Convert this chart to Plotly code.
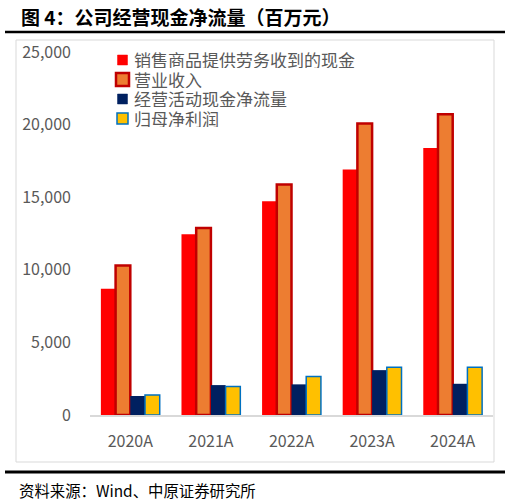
import plotly.graph_objects as go

# 数据（百万元）
years = ['2020A', '2021A', '2022A', '2023A', '2024A']
xiaoshou_xianjin = [8690, 12450, 14720, 16900, 18380]   # 销售商品提供劳务收到的现金
yingye_shouru = [10300, 12880, 15870, 20080, 20720]     # 营业收入
jingying_xianjinliu = [1310, 2060, 2110, 3090, 2150]    # 经营活动现金净流量
guimu_jinglirun = [1380, 1970, 2650, 3280, 3280]        # 归母净利润

series_names = ['销售商品提供劳务收到的现金', '营业收入', '经营活动现金净流量', '归母净利润']
fill_colors = ['#FF0000', '#ED7D31', '#002060', '#FFC000']
edge_colors = [None, '#C00000', None, '#0070C0']
edge_widths = [0, 2.5, 0, 1.5]

W, H = 511, 503
L, R, T, B = 90, 18, 52, 88
PW, PH = W - L - R, H - T - B


def px(x):
    return (x - L) / PW


def py(y):
    return (H - B - y) / PH


font_cn = 'Noto Sans CJK SC'
grey = '#595959'

fig = go.Figure()
for name, vals, fc, ec, ew in zip(series_names,
                                  [xiaoshou_xianjin, yingye_shouru, jingying_xianjinliu, guimu_jinglirun],
                                  fill_colors, edge_colors, edge_widths):
    fig.add_trace(go.Bar(x=years, y=vals, name=name,
                         marker=dict(color=fc, line=dict(color=ec, width=ew))))

shapes = [
    # 图框
    dict(type='rect', xref='paper', yref='paper', x0=px(16), x1=px(494), y0=py(40), y1=py(462),
         line=dict(color='#D9D9D9', width=1), layer='below'),
    # 标题下粗线
    dict(type='line', xref='paper', yref='paper', x0=px(5), x1=px(505), y0=py(32), y1=py(32),
         line=dict(color='black', width=2.5)),
    # 底部粗线
    dict(type='line', xref='paper', yref='paper', x0=px(5), x1=px(505), y0=py(472), y1=py(472),
         line=dict(color='black', width=3)),
]

annotations = [
    dict(text='<b>图 4：公司经营现金净流量（百万元）</b>', xref='paper', yref='paper',
         x=px(19), y=py(16), xanchor='left', yanchor='middle', showarrow=False,
         font=dict(family=font_cn, size=19, color='black')),
    dict(text='资料来源：Wind、中原证券研究所', xref='paper', yref='paper',
         x=px(17), y=py(490), xanchor='left', yanchor='middle', showarrow=False,
         font=dict(family=font_cn, size=15.4, color='black')),
]

# 图例（手动排布，行距更紧凑）
leg_x, leg_y0, leg_dy = 122.5, 60, 19.5
for i, name in enumerate(series_names):
    cy = leg_y0 + i * leg_dy
    half = 5 if edge_widths[i] == 0 else (6.5 if i == 1 else 5.5)
    shapes.append(dict(type='rect', xref='paper', yref='paper',
                       x0=px(leg_x - half), x1=px(leg_x + half),
                       y0=py(cy - half), y1=py(cy + half),
                       fillcolor=fill_colors[i],
                       line=dict(color=edge_colors[i] or fill_colors[i],
                                 width=edge_widths[i] if edge_widths[i] else 0.5)))
    annotations.append(dict(text=name, xref='paper', yref='paper',
                            x=px(132), y=py(cy - 1), xanchor='left', yanchor='middle',
                            height=18, valign='middle', showarrow=False,
                            font=dict(family=font_cn, size=17, color=grey)))

fig.update_layout(
    width=W, height=H,
    margin=dict(l=L, r=R, t=T, b=B),
    paper_bgcolor='white', plot_bgcolor='white',
    barmode='group', bargap=0.27, bargroupgap=0,
    font=dict(family=font_cn, color=grey),
    shapes=shapes, annotations=annotations,
    showlegend=False,
)

fig.update_xaxes(showline=True, linecolor='#D9D9D9', linewidth=1.5, ticks='',
                 tickfont=dict(size=16, color=grey), ticklabelstandoff=11)
fig.update_yaxes(range=[0, 25000], tickvals=[0, 5000, 10000, 15000, 20000, 25000],
                 tickformat=',', showgrid=False, zeroline=False, showline=False,
                 tickfont=dict(size=16, color=grey), ticklabelstandoff=18)

fig.write_html('out.html', config={'displayModeBar': False},
               post_script="document.body.style.margin='0';")
